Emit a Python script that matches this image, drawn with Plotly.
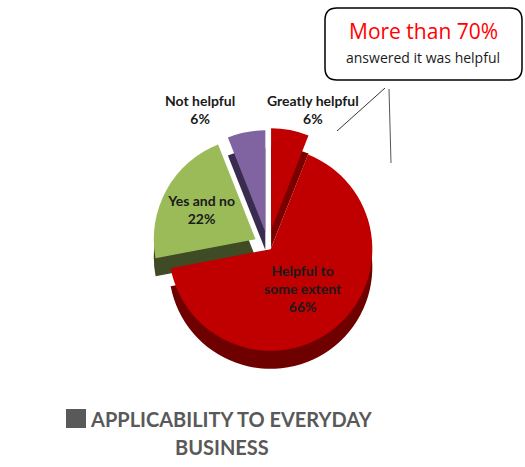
import plotly.graph_objects as go

W, H = 525, 467

labels = ["Greatly helpful", "Helpful to some extent", "Yes and no", "Not helpful"]
display_text = ["Greatly helpful", "Helpful to<br>some extent", "Yes and no", "Not helpful"]
values = [6, 66, 22, 6]
top_colors = ["#C00000", "#C00000", "#9BBB59", "#8064A2"]
side_colors = ["#7A0000", "#6E0000", "#3E4B24", "#3A2C4E"]
pulls = [0.16, 0.04, 0.14, 0.14]
inside_label = [False, True, True, False]

series_line1 = "APPLICABILITY TO EVERYDAY"
series_line2 = "BUSINESS"
callout_big = "More than 70%"
callout_small = "answered it was helpful"


def px(x):
    return x / W


def py(y):
    return 1 - y / H


cx, cy, half = 268, 246, 118
depth = 18
total = sum(values)

fig = go.Figure()

# depth (side) layer
fig.add_trace(go.Pie(
    labels=labels, values=values, sort=False, direction="clockwise", rotation=0,
    pull=pulls, marker=dict(colors=side_colors, line=dict(width=0)),
    textinfo="none", hoverinfo="skip", showlegend=False,
    domain=dict(x=[px(cx - half), px(cx + half)],
                y=[py(cy + depth + half), py(cy + depth - half)]),
))

# top layer
templates = ["<b>%{text}<br>%{percent:.0%}</b>" if ins else "" for ins in inside_label]
fig.add_trace(go.Pie(
    labels=labels, values=values, sort=False, direction="clockwise", rotation=0,
    pull=pulls, marker=dict(colors=top_colors, line=dict(width=0)),
    text=display_text, texttemplate=templates,
    textposition="inside", insidetextorientation="horizontal",
    textfont=dict(family="Lato", size=14, color="#1a1a1a"),
    showlegend=False,
    domain=dict(x=[px(cx - half), px(cx + half)],
                y=[py(cy + half), py(cy - half)]),
))

# callout box (rounded rectangle)
x0, y0, x1, y1, r = px(325), py(8), px(522), py(80), 12
rx, ry = r / W, r / H
path = (f"M {x0+rx},{y0} L {x1-rx},{y0} Q {x1},{y0} {x1},{y0-ry} "
        f"L {x1},{y1+ry} Q {x1},{y1} {x1-rx},{y1} L {x0+rx},{y1} "
        f"Q {x0},{y1} {x0},{y1+ry} L {x0},{y0-ry} Q {x0},{y0} {x0+rx},{y0} Z")
shapes = [
    dict(type="path", xref="paper", yref="paper", path=path,
         line=dict(color="#000000", width=1.5), fillcolor="white"),
    dict(type="line", xref="paper", yref="paper",
         x0=px(385), y0=py(88), x1=px(337), y1=py(131),
         line=dict(color="#333333", width=1)),
    dict(type="line", xref="paper", yref="paper",
         x0=px(389), y0=py(89), x1=px(391), y1=py(163),
         line=dict(color="#555555", width=1)),
    # legend square
    dict(type="rect", xref="paper", yref="paper",
         x0=px(66), y0=py(409), x1=px(86), y1=py(428),
         line=dict(width=0), fillcolor="#595959"),
]

# outside labels for the two small slices
outside_pos = {"Greatly helpful": (313, 109), "Not helpful": (200, 109)}
annotations = []
for lab, txt, val in zip(labels, display_text, values):
    if lab in outside_pos:
        ax, ay = outside_pos[lab]
        annotations.append(dict(
            xref="paper", yref="paper", x=px(ax), y=py(ay),
            text=f"<b>{txt}<br>{round(100 * val / total)}%</b>",
            showarrow=False, align="center",
            font=dict(family="Lato", size=14, color="#1a1a1a"),
            xanchor="center", yanchor="middle"))

annotations += [
    dict(xref="paper", yref="paper", x=px(423), y=py(31), text=callout_big,
         showarrow=False, font=dict(family="Open Sans", size=21, color="#FF0000"),
         xanchor="center", yanchor="middle"),
    dict(xref="paper", yref="paper", x=px(423), y=py(57), text=callout_small,
         showarrow=False, font=dict(family="Open Sans", size=14, color="#1a1a1a"),
         xanchor="center", yanchor="middle"),
    dict(xref="paper", yref="paper", x=px(88), y=py(419),
         text="<b>" + series_line1 + "</b>",
         showarrow=False, font=dict(family="Lato", size=20, color="#595959"),
         xanchor="left", yanchor="middle"),
    dict(xref="paper", yref="paper", x=px(222), y=py(447),
         text="<b>" + series_line2 + "</b>",
         showarrow=False, font=dict(family="Lato", size=20, color="#595959"),
         xanchor="center", yanchor="middle"),
]

fig.update_layout(
    width=W, height=H, margin=dict(l=0, r=0, t=0, b=0),
    paper_bgcolor="white", plot_bgcolor="white",
    shapes=shapes, annotations=annotations,
)

fig.write_html("out.html")
